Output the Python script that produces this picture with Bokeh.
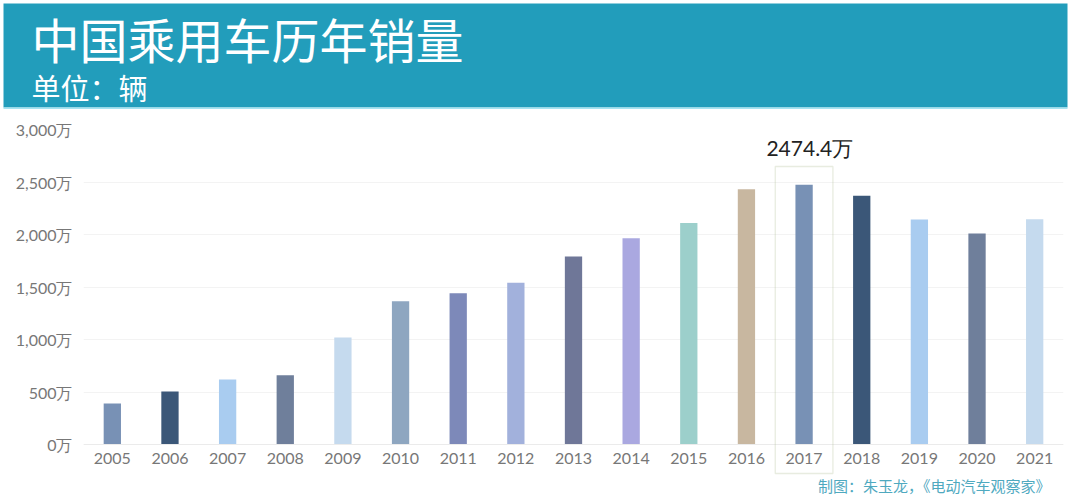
from bokeh.plotting import figure
from bokeh.layouts import column
from bokeh.models import Range1d, FixedTicker, BoxAnnotation, Label, ColumnDataSource, Span
from bokeh.core.properties import value
from bokeh.embed import file_html
from bokeh.resources import INLINE

# ---------------- data ----------------
years = [2005, 2006, 2007, 2008, 2009, 2010, 2011, 2012, 2013,
         2014, 2015, 2016, 2017, 2018, 2019, 2020, 2021]
sales = [390, 505, 620, 660, 1020, 1365, 1440, 1540, 1790,
         1965, 2110, 2430, 2474.4, 2370, 2142, 2010, 2145]  # 万辆
bar_colors = ["#7891b5", "#3b5778", "#a9ccf0", "#6f7f9b", "#c5daee",
              "#8ea6c0", "#7d89b9", "#a2b1dc", "#6f7798", "#aaa8e0",
              "#9ccfcb", "#c8b7a0", "#7891b5", "#3b5778", "#a9ccf0",
              "#6f7f9b", "#c5daee"]
y_ticks = [0, 500, 1000, 1500, 2000, 2500, 3000]
y_tick_labels = ["0万", "500万", "1,000万", "1,500万", "2,000万", "2,500万", "3,000万"]
title_text = "中国乘用车历年销量"
subtitle_text = "单位：辆"
source_text = "制图：朱玉龙，《电动汽车观察家》"
highlight_year = 2017

# ---------------- layout constants ----------------
W = 1070
HEAD_H = 109
MAIN_H = 497 - HEAD_H
TOP_PANEL = 20                     # space reserved for the (relocated) x axis
FL, FR = 83, 1063                  # frame left/right (page px)
FT = HEAD_H + TOP_PANEL            # frame top (page px)
FB = 497                           # frame bottom (page px)
BASE = 444                         # page px of value 0
X0, X1 = years[0] - 0.5, years[-1] + 0.5
Y1 = y_ticks[-1]
PPU = (BASE - FT) / Y1             # px per unit
Y0 = -(FB - BASE) / PPU
FONT = "Lato"
CJK = "Noto Sans CJK SC"


def px_x(px):
    return X0 + (px - FL) / (FR - FL) * (X1 - X0)


def px_y(py):
    return (BASE - py) / PPU


# ---------------- header ----------------
head = figure(width=W, height=HEAD_H, x_range=Range1d(0, W), y_range=Range1d(HEAD_H, 0),
              x_axis_type=None, y_axis_type=None, output_backend="svg",
              toolbar_location=None, min_border=0)
head.min_border_left = head.min_border_right = head.min_border_top = head.min_border_bottom = 0
head.outline_line_color = None
head.xgrid.visible = False
head.ygrid.visible = False
head.quad(left=[3], right=[1067], top=[3], bottom=[107], fill_color="#229dbb", line_color=None)
head.quad(left=[3], right=[1067], top=[107], bottom=[109], fill_color="#a6e4f2", line_color=None)
head.text(x=[31], y=[37], text=[title_text], text_font=value(CJK), text_font_size="48px",
          text_color="white", text_baseline="middle", text_align="left")
head.text(x=[31], y=[86], text=[subtitle_text], text_font=value(CJK), text_font_size="29px",
          text_color="white", text_baseline="middle", text_align="left")

# ---------------- main chart ----------------
p = figure(width=W, height=MAIN_H,
           x_range=Range1d(X0, X1), y_range=Range1d(Y0, Y1),
           x_axis_location="above",
           output_backend="svg", toolbar_location=None,
           min_border_left=FL, min_border_right=W - FR,
           min_border_top=TOP_PANEL, min_border_bottom=0)
p.outline_line_color = None
p.background_fill_color = "white"
p.border_fill_color = "white"

for fig in (head, p):
    if "frame_align" in fig.properties():
        fig.frame_align = False

src = ColumnDataSource(dict(year=years, sales=sales, color=bar_colors))
p.vbar(x="year", top="sales", width=0.3, fill_color="color",
       line_color=None, source=src)

# x axis: category labels sit just under the baseline
p.xaxis.fixed_location = px_y(463)
p.xaxis.ticker = FixedTicker(ticks=years)
p.xaxis.major_tick_line_color = None
p.xaxis.major_tick_out = 0
p.xaxis.major_tick_in = 0
p.xaxis.minor_tick_line_color = None
p.xaxis.axis_line_color = None
p.xaxis.major_label_text_font = FONT
p.xaxis.major_label_text_font_size = "16px"
p.xaxis.major_label_text_color = "#777777"
p.xaxis.major_label_standoff = 0

p.yaxis.ticker = FixedTicker(ticks=y_ticks)
p.yaxis.major_label_overrides = {t: l for t, l in zip(y_ticks, y_tick_labels)}
p.yaxis.major_tick_line_color = None
p.yaxis.minor_tick_line_color = None
p.yaxis.axis_line_color = None
p.yaxis.major_label_text_font = FONT
p.yaxis.major_label_text_font_size = "16px"
p.yaxis.major_label_text_color = "#777777"
p.yaxis.major_label_standoff = 5

p.xgrid.grid_line_color = None
p.ygrid.grid_line_color = "#f3f3f3"
p.add_layout(Span(location=0, dimension="width", line_color="#ebebeb", line_width=1))

# highlight
hi = years.index(highlight_year)
p.add_layout(BoxAnnotation(left=years[hi] - 0.5, right=years[hi] + 0.5,
                           top=px_y(166), bottom=px_y(473),
                           fill_alpha=0, line_color="#b3bf98", line_width=1.3))
p.add_layout(Label(x=years[hi] + 0.1, y=px_y(147), text=f"{sales[hi]}万", text_font=FONT,
                   text_font_size="21px", text_color="#222222", text_baseline="middle",
                   text_align="center"))

# footer
p.add_layout(Label(x=px_x(1050), y=px_y(485), text=source_text, text_font=CJK,
                   text_font_size="15px", text_color="#4fa9bf", text_baseline="middle",
                   text_align="right"))

layout = column(head, p, spacing=0)
open("out.html", "w").write(file_html(layout, INLINE))
